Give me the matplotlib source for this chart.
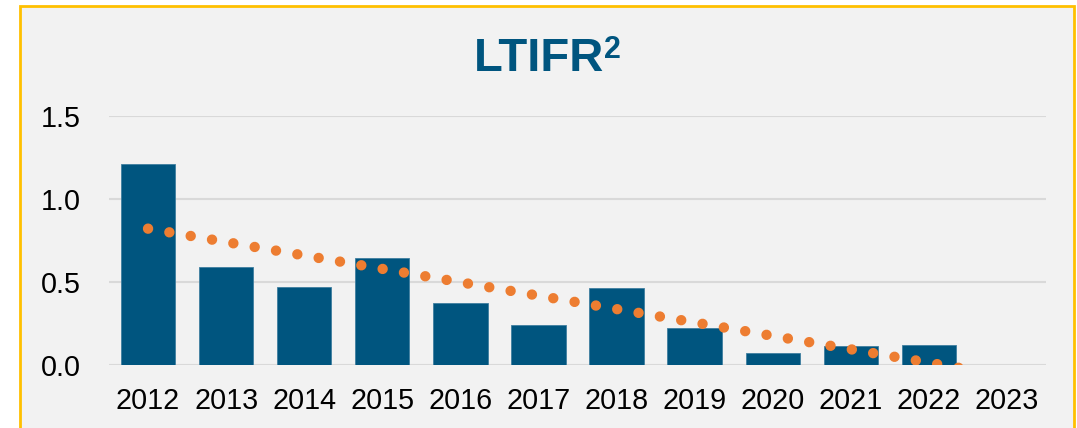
import numpy as np
import matplotlib
matplotlib.use("Agg")
import matplotlib.pyplot as plt
from matplotlib.patches import Rectangle

plt.rcParams['font.family'] = ['Liberation Sans', 'DejaVu Sans']
plt.rcParams['lines.scale_dashes'] = False

years = ["2012", "2013", "2014", "2015", "2016", "2017", "2018", "2019", "2020", "2021", "2022", "2023"]
ltifr = [1.21, 0.59, 0.47, 0.64, 0.37, 0.24, 0.46, 0.22, 0.07, 0.11, 0.12, 0.0]
y_ticks = [0.0, 0.5, 1.0, 1.5]
y_tick_labels = ["0.0", "0.5", "1.0", "1.5"]
title_main = "LTIFR"
title_sup = "2"

bar_color = "#00557F"
trend_color = "#ED7D31"
bg_color = "#F2F2F2"
border_color = "#FFC000"
grid_color = "#D9D9D9"

fig = plt.figure(figsize=(10.77, 4.28), dpi=100)
fig.patch.set_facecolor("white")

W, H = 1077, 428
panel = Rectangle((20 / W, -0.1), (1074 - 20) / W, (H - 6) / H + 0.1,
                  transform=fig.transFigure, facecolor=bg_color,
                  edgecolor=border_color, linewidth=2.0, zorder=-10)
fig.patches.append(panel)

ax = fig.add_axes([109 / W, (H - 364.5) / H, (1046 - 109) / W, (364.5 - 116) / H])
ax.set_zorder(5)
ax.set_facecolor("none")

x = np.arange(len(years))
ax.bar(x, ltifr, width=0.695, color=bar_color, edgecolor="#3F7FA0",
       linewidth=0.6, zorder=2)

# Linear trendline (Excel-style) fitted to the data
coef = np.polyfit(x, ltifr, 1)
xt = np.linspace(0, len(years) - 1, 400)
yt = np.polyval(coef, xt)
ax.plot(xt, yt, color=trend_color, linewidth=7.5,
        linestyle=(0, (0.01, 15.57)), dash_capstyle="round", zorder=3)

ax.set_xlim(-0.5, len(years) - 0.5)
ax.set_ylim(0, 1.5)
ax.set_yticks(y_ticks)
ax.set_yticklabels(y_tick_labels)
ax.set_xticks(x)
ax.set_xticklabels(years)
ax.tick_params(axis="both", length=0, labelsize=20.7, colors="black")
ax.tick_params(axis="x", pad=16)
ax.tick_params(axis="y", pad=20)
ax.yaxis.grid(True, color=grid_color, linewidth=1.5, zorder=1)
ax.set_axisbelow(True)
for s in ax.spines.values():
    s.set_visible(False)

fig.text(474 / W, (H - 71) / H, title_main, ha="left", va="baseline",
         fontsize=34, fontweight="bold", color=bar_color, zorder=10)
fig.text(604 / W, (H - 35) / H, title_sup, ha="left", va="top",
         fontsize=22, fontweight="bold", color=bar_color, zorder=10)

fig.savefig("out.png", dpi=100, facecolor=fig.get_facecolor())
